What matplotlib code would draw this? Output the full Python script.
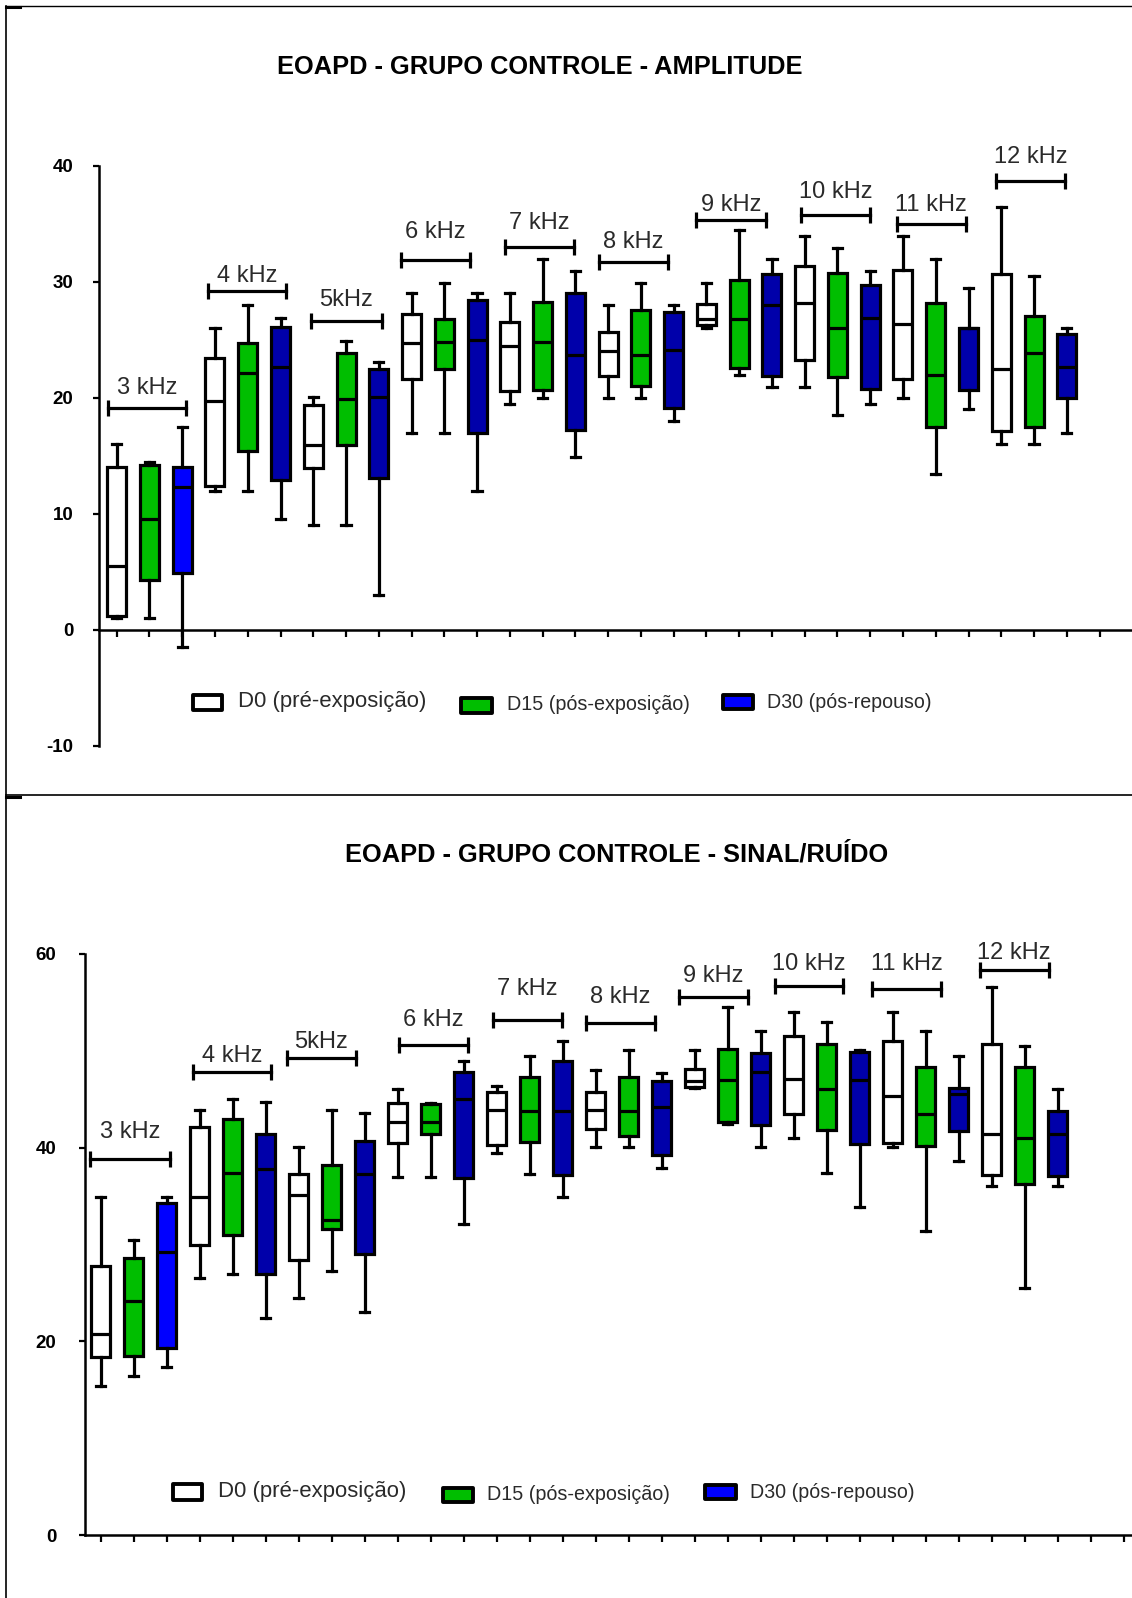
import matplotlib
matplotlib.use('Agg')
import matplotlib.pyplot as plt
from matplotlib.patches import Rectangle
from matplotlib.lines import Line2D

plt.rcParams['font.family'] = ['Liberation Sans', 'DejaVu Sans']

W, H = 1132, 1598

FREQS = ['3 kHz', '4 kHz', '5kHz', '6 kHz', '7 kHz', '8 kHz',
         '9 kHz', '10 kHz', '11 kHz', '12 kHz']
GROUPS = ['D0 (pré-exposição)', 'D15 (pós-exposição)', 'D30 (pós-repouso)']

# (min, q1, mediana, q3, max) por frequencia
amp_d0 = [(1.0, 1.2, 5.5, 14.0, 16.0), (12.0, 12.4, 19.7, 23.4, 26.0),
          (9.0, 13.9, 15.9, 19.4, 20.1), (17.0, 21.6, 24.7, 27.2, 29.0),
          (19.5, 20.6, 24.5, 26.5, 29.0), (20.0, 21.9, 24.0, 25.7, 28.0),
          (26.0, 26.3, 26.8, 28.1, 29.9), (20.9, 23.3, 28.2, 31.4, 34.0),
          (20.0, 21.6, 26.4, 31.0, 34.0), (16.0, 17.1, 22.5, 30.7, 36.5)]
amp_d15 = [(1.0, 4.25, 9.5, 14.2, 14.5), (12.0, 15.4, 22.1, 24.7, 28.0),
           (9.0, 15.9, 19.9, 23.9, 24.9), (17.0, 22.5, 24.8, 26.8, 29.9),
           (20.0, 20.7, 24.8, 28.3, 32.0), (20.0, 21.0, 23.7, 27.6, 29.9),
           (22.0, 22.6, 26.8, 30.2, 34.5), (18.5, 21.8, 26.0, 30.8, 32.9),
           (13.4, 17.5, 22.0, 28.2, 32.0), (16.0, 17.5, 23.9, 27.1, 30.5)]
amp_d30 = [(-1.5, 4.9, 12.3, 14.0, 17.5), (9.5, 12.9, 22.7, 26.1, 26.9),
           (3.0, 13.1, 20.1, 22.5, 23.1), (12.0, 17.0, 25.0, 28.4, 29.0),
           (14.9, 17.2, 23.7, 29.0, 30.9), (18.0, 19.1, 24.1, 27.4, 28.0),
           (20.9, 21.9, 28.0, 30.7, 32.0), (19.5, 20.8, 26.9, 29.7, 30.9),
           (19.0, 20.7, 26.0, 26.0, 29.5), (17.0, 20.0, 22.7, 25.5, 26.0)]

snr_d0 = [(15.4, 18.4, 20.8, 27.8, 34.9), (26.5, 30.0, 34.9, 42.1, 43.9),
          (24.5, 28.4, 35.1, 37.3, 40.1), (37.0, 40.5, 42.7, 44.6, 46.1),
          (39.5, 40.3, 43.9, 45.8, 46.4), (40.1, 41.9, 43.9, 45.8, 48.0),
          (46.2, 46.3, 46.9, 48.1, 50.1), (41.0, 43.5, 47.1, 51.5, 54.0),
          (40.1, 40.5, 45.3, 51.0, 54.0), (36.0, 37.2, 41.4, 50.7, 56.6)]
snr_d15 = [(16.4, 18.5, 24.2, 28.6, 30.5), (27.0, 31.0, 37.4, 43.0, 45.0),
           (27.3, 31.6, 32.5, 38.2, 43.9), (37.0, 41.4, 42.6, 44.5, 44.6),
           (37.3, 40.6, 43.8, 47.3, 49.5), (40.1, 41.2, 43.8, 47.3, 50.1),
           (42.4, 42.6, 47.0, 50.2, 54.5), (37.4, 41.8, 46.1, 50.7, 53.0),
           (31.4, 40.2, 43.5, 48.3, 52.0), (25.5, 36.2, 41.0, 48.3, 50.5)]
snr_d30 = [(17.4, 19.3, 29.2, 34.3, 34.9), (22.4, 27.0, 37.8, 41.4, 44.7),
           (23.0, 29.0, 37.3, 40.7, 43.6), (32.1, 36.9, 45.0, 47.8, 49.0),
           (34.9, 37.2, 43.8, 49.0, 51.0), (37.9, 39.2, 44.2, 46.9, 47.7),
           (40.1, 42.3, 47.8, 49.8, 52.0), (33.9, 40.4, 47.0, 49.9, 50.1),
           (38.6, 41.7, 45.5, 46.2, 49.5), (36.0, 37.1, 41.4, 43.8, 46.1)]

# colchetes das frequencias: inicio, fim, altura do traco, altura do texto
amp_br_x0 = [0.73, 3.80, 6.93, 9.68, 12.85, 15.73, 18.69, 21.89, 24.81, 27.83]
amp_br_x1 = [3.13, 6.17, 9.09, 11.78, 14.95, 17.83, 20.82, 23.98, 26.91, 29.95]
amp_br_y = [19.1, 29.2, 26.6, 31.9, 33.0, 31.7, 35.3, 35.8, 35.0, 38.7]
amp_lab_y = [20.3, 30.0, 27.9, 33.8, 34.6, 32.9, 36.1, 37.2, 36.1, 40.3]

snr_br_x0 = [0.68, 3.79, 6.63, 10.05, 12.89, 15.71, 18.52, 21.42, 24.38, 27.64]
snr_br_x1 = [3.09, 6.15, 8.74, 12.13, 14.97, 17.80, 20.60, 23.50, 26.46, 29.72]
snr_br_y = [38.8, 47.8, 49.3, 50.6, 53.2, 52.9, 55.6, 56.7, 56.4, 58.3]
snr_lab_y = [41.0, 48.8, 50.3, 52.6, 55.8, 54.9, 57.1, 58.3, 58.3, 59.5]

GREEN = '#00be00'
DARK_BLUE = '#0000aa'
BLUE = '#0000ff'
TXT = '#2a2a2a'
LW = 2.3


def fx(px):
    return px / W


def fy(py):
    return 1 - py / H


def draw_boxes(ax, series):
    fills = ['white', GREEN, DARK_BLUE]
    for g, data in enumerate(series):
        stats = []
        for (mn, q1, md, q3, mx) in data:
            stats.append(dict(whislo=mn, q1=q1, med=md, q3=q3, whishi=mx, fliers=[]))
        pos = [3 * k + g + 1 for k in range(len(data))]
        bp = ax.bxp(stats, positions=pos, widths=0.58, capwidths=0.28,
                    patch_artist=True, showfliers=False, manage_ticks=False,
                    boxprops=dict(facecolor=fills[g], edgecolor='black', linewidth=LW),
                    whiskerprops=dict(color='black', linewidth=LW),
                    capprops=dict(color='black', linewidth=LW),
                    medianprops=dict(color='black', linewidth=LW))
        if g == 2:
            bp['boxes'][0].set_facecolor(BLUE)


def draw_brackets(ax, x0s, x1s, ys, lys):
    for lab, a, b, y, ly in zip(FREQS, x0s, x1s, ys, lys):
        ax.plot([a, b], [y, y], color='black', lw=LW, marker='|', ms=12,
                mew=LW, clip_on=False)
        ax.text((a + b) / 2, ly, lab, ha='center', va='baseline',
                fontsize=17, color=TXT, clip_on=False)


def style_axis(ax, xmin, xmax, ylo, yhi, yticks, nticks, pad):
    ax.set_xlim(xmin, xmax)
    ax.set_ylim(ylo, yhi)
    for s in ['top', 'right']:
        ax.spines[s].set_visible(False)
    ax.spines['bottom'].set_position(('data', 0))
    ax.spines['left'].set_linewidth(1.8)
    ax.spines['bottom'].set_linewidth(1.8)
    ax.set_xticks(range(1, nticks + 1))
    ax.set_yticks(yticks)
    ax.set_yticklabels([str(t) for t in yticks], fontweight='bold', fontsize=13.5)
    ax.tick_params(axis='x', direction='out', length=5, width=1.6, labelbottom=False)
    ax.tick_params(axis='y', direction='out', length=4.5, width=1.6, pad=pad)
    ax.patch.set_visible(False)


def draw_legend(fig, boxes, texts):
    fills = ['white', GREEN, BLUE]
    for (x0, x1, y0, y1), fc in zip(boxes, fills):
        fig.add_artist(Rectangle((fx(x0), fy(y1)), fx(x1 - x0), (y1 - y0) / H,
                                 transform=fig.transFigure, facecolor=fc,
                                 edgecolor='black', linewidth=2.8, joinstyle='round'))
    for (x, y, size), lab in zip(texts, GROUPS):
        fig.text(fx(x), fy(y), lab, ha='left', va='center', fontsize=size, color=TXT)


fig = plt.figure(figsize=(W / 100, H / 100), dpi=100)

# painel superior: amplitude
ax1 = fig.add_axes([fx(99), fy(745.5), fx(1132 - 99), (745.5 - 166) / H])
draw_boxes(ax1, [amp_d0, amp_d15, amp_d30])
draw_brackets(ax1, amp_br_x0, amp_br_x1, amp_br_y, amp_lab_y)
style_axis(ax1, 0.46, 31.99, -10, 40, [-10, 0, 10, 20, 30, 40], 31, 14)
fig.text(fx(540), fy(67), 'EOAPD - GRUPO CONTROLE - AMPLITUDE', ha='center',
         va='center', fontsize=18.3, fontweight='bold', color='black')
draw_legend(fig,
            [(193, 222, 695, 710), (461, 492, 698, 712.5), (723, 753, 695, 709)],
            [(238, 702, 15.9), (507, 705, 14.2), (767, 702, 14.1)])

# painel inferior: sinal/ruido
ax2 = fig.add_axes([fx(85), fy(1535), fx(1132 - 85), (1535 - 954) / H])
draw_boxes(ax2, [snr_d0, snr_d15, snr_d30])
draw_brackets(ax2, snr_br_x0, snr_br_x1, snr_br_y, snr_lab_y)
style_axis(ax2, 0.524, 32.25, 0, 60, [0, 20, 40, 60], 32, 16)
fig.text(fx(617), fy(854), 'EOAPD - GRUPO CONTROLE - SINAL/RUÍDO', ha='center',
         va='center', fontsize=18.3, fontweight='bold', color='black')
draw_legend(fig,
            [(173, 202, 1484, 1500), (443, 473, 1488, 1502), (705, 736, 1485, 1499)],
            [(218, 1492, 15.9), (487, 1495, 14.2), (750, 1492, 14.1)])

# moldura
for xs, ys, lw in [((6, 6), (6, H), 1.2), ((6, W), (6, 6), 1.0),
                   ((6, W), (795, 795), 1.2), ((6, 20), (7, 7), 2.2),
                   ((6, 20), (797, 797), 2.2)]:
    fig.add_artist(Line2D([fx(x) for x in xs], [fy(y) for y in ys],
                          transform=fig.transFigure, color='black', lw=lw))

fig.savefig('out.png', dpi=100)
